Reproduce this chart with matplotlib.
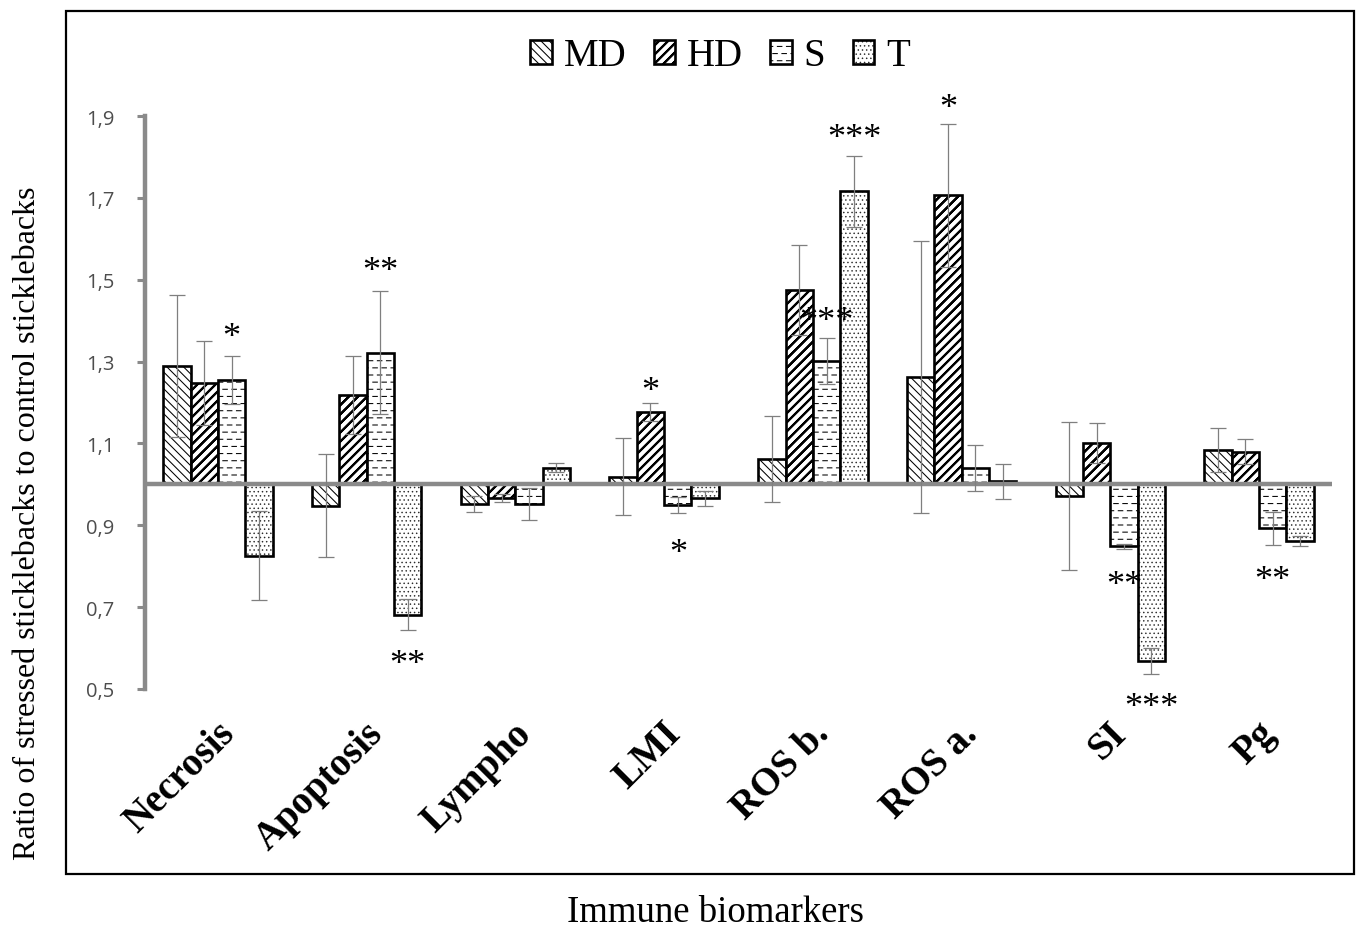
import numpy as np
import matplotlib
matplotlib.use("Agg")
import matplotlib.pyplot as plt
import matplotlib.hatch as mhatch
from matplotlib.path import Path
from matplotlib.patches import Rectangle
import matplotlib.transforms as mtrans

# ---------------- data ----------------
categories = ["Necrosis", "Apoptosis", "Lympho", "LMI", "ROS b.", "ROS a.", "SI", "Pg"]
series = ["MD", "HD", "S", "T"]
md_vals = [1.289, 0.948, 0.952, 1.019, 1.062, 1.263, 0.972, 1.084]
hd_vals = [1.248, 1.219, 0.967, 1.176, 1.475, 1.706, 1.101, 1.080]
s_vals = [1.255, 1.322, 0.952, 0.950, 1.301, 1.040, 0.849, 0.893]
t_vals = [0.826, 0.682, 1.040, 0.966, 1.716, 1.007, 0.569, 0.862]
md_err = [0.174, 0.125, 0.020, 0.094, 0.104, 0.332, 0.181, 0.054]
hd_err = [0.103, 0.095, 0.010, 0.022, 0.111, 0.174, 0.049, 0.030]
s_err = [0.059, 0.151, 0.040, 0.020, 0.056, 0.057, 0.006, 0.040]
t_err = [0.108, 0.038, 0.011, 0.018, 0.086, 0.043, 0.032, 0.012]
reference_value = 1.0
y_ticks = [0.5, 0.7, 0.9, 1.1, 1.3, 1.5, 1.7, 1.9]
y_tick_labels = ["0,5", "0,7", "0,9", "1,1", "1,3", "1,5", "1,7", "1,9"]
# significance marks: category index, series index, text, vertical level
sig_cat = [0, 1, 1, 3, 3, 4, 4, 5, 6, 6, 7]
sig_ser = [2, 2, 3, 1, 2, 2, 3, 1, 2, 3, 2]
sig_txt = ["*", "**", "**", "*", "*", "***", "***", "*", "**", "***", "**"]
sig_lvl = [1.380, 1.543, 0.581, 1.250, 0.854, 1.421, 1.868, 1.941, 0.776, 0.476, 0.788]

values = [md_vals, hd_vals, s_vals, t_vals]
errors = [md_err, hd_err, s_err, t_err]

# ---------------- custom hatches ----------------
class DashHatch(mhatch.HatchPatternBase):
    """Staggered short horizontal dashes (replaces '-' hatch)."""
    def __init__(self, hatch, density):
        self.num_rows = (hatch.count('-') + hatch.count('+')) * 7
        self.num_dash = 11
        self.num_lines = self.num_rows * self.num_dash
        self.num_vertices = self.num_lines * 2

    def set_vertices_and_codes(self, vertices, codes):
        k = 0
        dl = 0.045
        for r in range(self.num_rows):
            y = (r + 0.5) / self.num_rows
            off = 0.5 / self.num_dash if r % 2 else 0.0
            for c in range(self.num_dash):
                x0 = c / self.num_dash + 0.001 + off
                vertices[k] = (x0, y)
                vertices[k + 1] = (x0 + dl, y)
                codes[k] = Path.MOVETO
                codes[k + 1] = Path.LINETO
                k += 2


class ThickNEHatch(mhatch.HatchPatternBase):
    """Bold '/' stripes built from several close parallel lines."""
    shifts = (-0.009, -0.0045, 0.0, 0.0045, 0.009)

    def __init__(self, hatch, density):
        self.n = 11 if '/' in hatch else 0
        if self.n:
            self.cs = [k / self.n for k in range(-self.n - 1, self.n + 2)]
            self.num_vertices = len(self.cs) * len(self.shifts) * 2
        else:
            self.num_vertices = 0

    def set_vertices_and_codes(self, vertices, codes):
        k = 0
        for c in self.cs:
            for d in self.shifts:
                vertices[k] = (c + d, 0.0)
                vertices[k + 1] = (c + d + 1.0, 1.0)
                codes[k] = Path.MOVETO
                codes[k + 1] = Path.LINETO
                k += 2


mhatch._hatch_types[0] = DashHatch
mhatch._hatch_types[2] = ThickNEHatch
mhatch.SmallFilledCircles.size = 0.06

plt.rcParams["font.family"] = ["Liberation Serif", "DejaVu Serif"]
plt.rcParams["hatch.linewidth"] = 0.75

grey = "#8a8a8a"
W, H = 1367, 928
fig = plt.figure(figsize=(W / 100, H / 100), dpi=100)
ax = fig.add_axes([145 / W, 1 - 690 / H, (1332 - 145) / W, (690 - 117) / H])

x = np.arange(len(categories))
bw = 0.184
offsets = [-1.5 * bw, -0.5 * bw, 0.5 * bw, 1.5 * bw]
hatches = ["\\\\\\\\", "//", "--", "...."]

bar_containers = []
for i, name in enumerate(series):
    heights = np.array(values[i]) - reference_value
    bc = ax.bar(x + offsets[i], heights, bw, bottom=reference_value,
                facecolor="white", edgecolor="black", linewidth=1.9,
                hatch=hatches[i], label=name, zorder=2)
    bar_containers.append(bc)
    ax.errorbar(x + offsets[i], values[i], yerr=errors[i], fmt="none",
                ecolor="#7f7f7f", elinewidth=0.9, capsize=6, capthick=0.9,
                zorder=3)

ax.axhline(reference_value, color=grey, lw=3.2, zorder=2.5)

ax.set_xlim(-0.49, 7.49)
ax.set_ylim(0.5, 1.9)
ax.set_yticks(y_ticks)
ax.set_yticklabels(y_tick_labels, fontfamily=["Open Sans", "DejaVu Sans"],
                   fontsize=14.5, color="#4d4d4d")
ax.tick_params(axis="y", direction="out", length=6, width=2.2, color=grey, pad=16)
ax.set_xticks([])
for sp in ["top", "right", "bottom"]:
    ax.spines[sp].set_visible(False)
ax.spines["left"].set_color(grey)
ax.spines["left"].set_linewidth(3.2)
ax.patch.set_visible(False)

# category labels
lbl_off = mtrans.offset_copy(ax.transData, fig=fig, x=11, y=0, units="dots")
for xi, cat in zip(x, categories):
    ax.text(xi, 0.405, cat, rotation=45, ha="right", va="center",
            rotation_mode="anchor", fontsize=28, fontweight="bold",
            transform=lbl_off, clip_on=False)

# significance stars
star_tr = mtrans.offset_copy(ax.transData, fig=fig, x=0, y=-9, units="dots")
for c, si, txt, lv in zip(sig_cat, sig_ser, sig_txt, sig_lvl):
    ax.text(x[c] + offsets[si], lv, txt, ha="center", va="center",
            fontsize=26, transform=star_tr, clip_on=False, zorder=5)

# legend
leg = fig.legend(handles=bar_containers, labels=series, loc="center",
                 bbox_to_anchor=(720 / W, 1 - 57 / H), ncol=4, frameon=False,
                 fontsize=28, handlelength=0.56, handleheight=0.56,
                 handletextpad=0.3, columnspacing=0.7)

# axis titles
fig.text(28 / W, 1 - 523 / H, "Ratio of stressed sticklebacks to control sticklebacks",
         rotation=90, ha="center", va="center", fontsize=23)
fig.text(716 / W, 1 - 913 / H, "Immune biomarkers", ha="center", va="center",
         fontsize=26.5)

# outer frame
fig.patches.append(Rectangle((66 / W, 1 - 875 / H), (1354 - 66) / W, (875 - 12) / H,
                             transform=fig.transFigure, fill=False,
                             edgecolor="black", linewidth=1.6))

fig.savefig("out.png", dpi=100)
